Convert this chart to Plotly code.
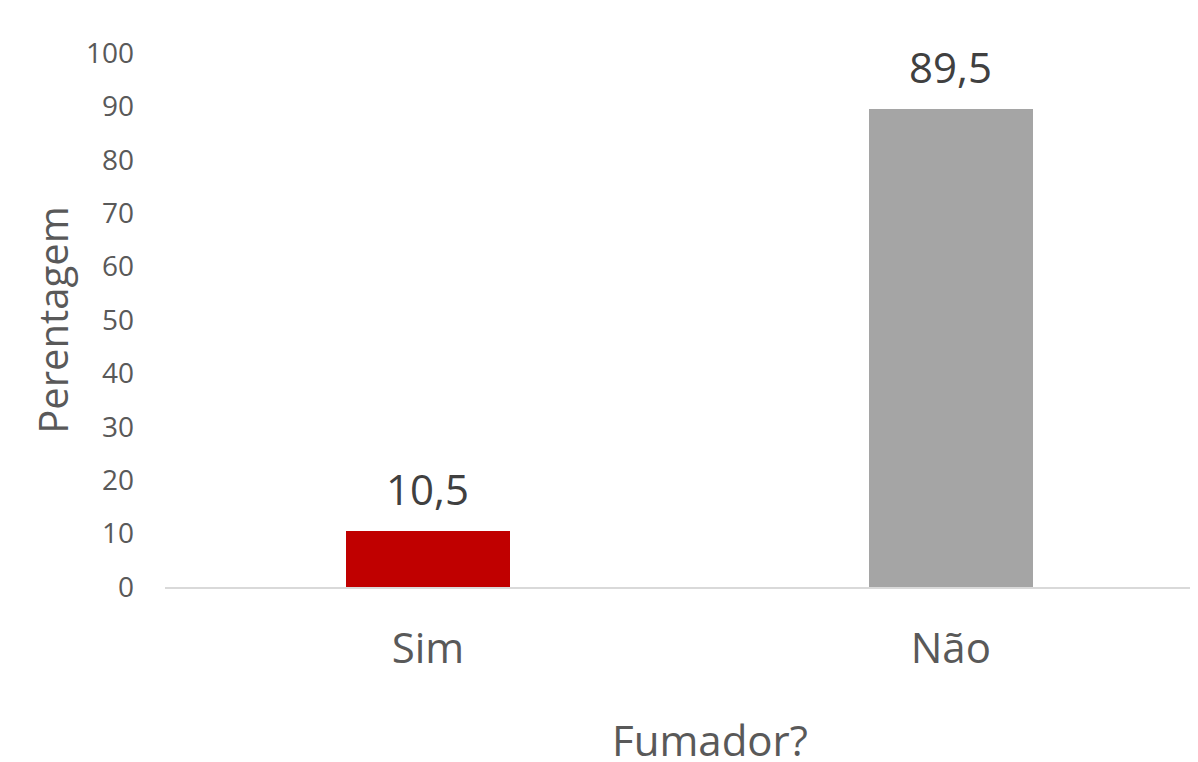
import plotly.graph_objects as go

categories = ["Sim", "Não"]
values = [10.5, 89.5]
labels = ["10,5", "89,5"]
bar_colors = ["#C00000", "#A5A5A5"]

FONT = "Open Sans"
TEXT_COLOR = "#595959"

fig = go.Figure()
fig.add_trace(go.Bar(x=categories,
                     y=values,
                     marker=dict(color=bar_colors, line=dict(width=0)),
                     width=0.315))

# data labels sit a bit higher above the bars than plotly's "outside" text
for cat, val, lab in zip(categories, values, labels):
    fig.add_annotation(x=cat, y=val, text=lab, showarrow=False,
                       yanchor="bottom", yshift=12,
                       font=dict(family=FONT, size=42, color="#404040"))

fig.add_annotation(text="Fumador?", xref="paper", yref="paper", x=0.5235, y=-0.285,
                   xanchor="center", yanchor="middle", showarrow=False,
                   font=dict(family=FONT, size=42, color=TEXT_COLOR))

fig.update_layout(width=1198, height=762,
                  margin=dict(l=157, r=0, t=45, b=183),
                  plot_bgcolor="white",
                  paper_bgcolor="white",
                  showlegend=False,
                  bargap=0,
                  xaxis=dict(range=[-0.503, 1.488],
                             showline=True, linecolor="#D9D9D9", linewidth=2,
                             showgrid=False, ticks="",
                             ticklabelstandoff=24,
                             tickfont=dict(family=FONT, size=42, color=TEXT_COLOR)),
                  yaxis=dict(range=[0, 100], dtick=10,
                             showline=False, showgrid=False, zeroline=False,
                             ticks="", ticklabelstandoff=30,
                             tickfont=dict(family=FONT, size=28, color=TEXT_COLOR),
                             title=dict(text="Perentagem", standoff=4,
                                        font=dict(family=FONT, size=40, color=TEXT_COLOR))))

fig.write_html("out.html")
